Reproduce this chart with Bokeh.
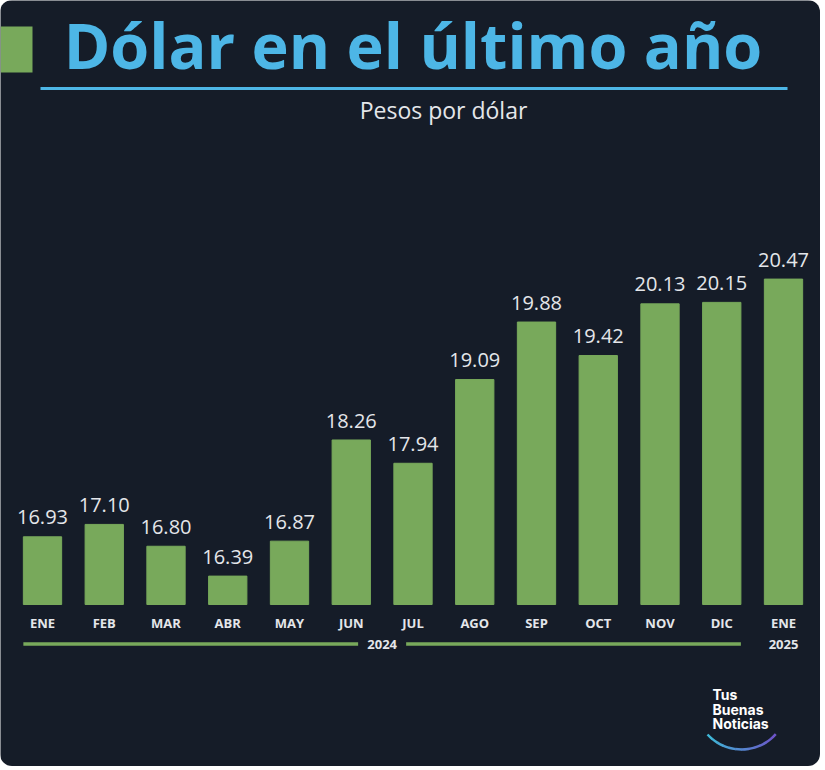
import math
from bokeh.plotting import figure
from bokeh.models import ColumnDataSource, Range1d
from bokeh.core.properties import value
from bokeh.embed import file_html
from bokeh.resources import INLINE

# ---------------- data ----------------
months = ["ENE", "FEB", "MAR", "ABR", "MAY", "JUN", "JUL", "AGO", "SEP", "OCT", "NOV", "DIC", "ENE"]
rates = [16.93, 17.10, 16.80, 16.39, 16.87, 18.26, 17.94, 19.09, 19.88, 19.42, 20.13, 20.15, 20.47]
years = ["2024", "2025"]
year_first = [0, 12]
year_last = [11, 12]
title = "Dólar en el último año"
subtitle = "Pesos por dólar"
logo_lines = ["Tus", "Buenas", "Noticias"]

# ---------------- style ----------------
BG = "#151c28"
GREEN = "#78a95b"
BLUE = "#4db6e6"
TXT = "#e4e6ea"
W, H = 820, 766
OX, OY = 0, 0            # page offset of the canvas
SX, SY = 61.75, 72.8     # px per x unit / per peso
X_REF0, Y_REF0 = 42, 604 # pixel of first bar centre / bar floor
FLOOR = 16.0
BAR_W = 0.62
BASE_FIX = 0.42          # svg baseline correction (fraction of font size)


def rx(px):
    return (px - X_REF0) / SX


def ry(py):
    return FLOOR + (Y_REF0 - py) / SY


def tb(py, size):
    """data y for an alphabetic baseline at pixel py for a given font size"""
    return ry(py - BASE_FIX * size)


p = figure(width=W, height=H,
           x_range=Range1d(rx(OX), rx(OX + W)),
           y_range=Range1d(ry(OY + H), ry(OY)),
           x_axis_type=None, y_axis_type=None,
           output_backend="svg", toolbar_location=None, tools="",
           min_border=0, background_fill_color=BG, border_fill_color=BG,
           outline_line_color=None)
p.grid.visible = False
p.styles = {"border-radius": "12px", "overflow": "hidden"}

xs = list(range(len(months)))
src = ColumnDataSource(dict(
    x=xs,
    rate=rates,
    label=["%.2f" % r for r in rates],
    label_y=[r + (11 + BASE_FIX * 20) / SY for r in rates],
    month=months,
))

# bars
p.vbar(x="x", top="rate", bottom=FLOOR, width=BAR_W, color=GREEN, source=src)

# value labels
p.text(x="x", y="label_y", text="label", source=src,
       text_align="center", text_baseline="alphabetic",
       text_font=value("Open Sans"), text_font_size="20px", text_color=TXT)

# month labels
p.text(x="x", y=tb(628, 13), text="month", source=src,
       text_align="center", text_baseline="alphabetic",
       text_font=value("Open Sans"), text_font_style="bold",
       text_font_size="13px", text_color=TXT)

# year brackets
half_gap = 24 / SX
half_bar = BAR_W / 2
for yr, a, b in zip(years, year_first, year_last):
    mid = (a + b) / 2
    if b > a:
        p.segment(x0=[a - half_bar, mid + half_gap], x1=[mid - half_gap, b + half_bar],
                  y0=[ry(643.5)] * 2, y1=[ry(643.5)] * 2,
                  line_color=GREEN, line_width=3.5)
    p.text(x=[mid], y=[tb(649, 13)], text=[yr], text_align="center",
           text_baseline="alphabetic", text_font=value("Open Sans"),
           text_font_style="bold", text_font_size="13px", text_color=TXT)

# title block
p.quad(left=[rx(0)], right=[rx(32)], top=[ry(26)], bottom=[ry(72)],
       color=GREEN, line_color=None)
p.text(x=[rx(412.5)], y=[tb(70, 63)], text=[title], text_align="center",
       text_baseline="alphabetic", text_font=value("Open Sans"),
       text_font_style="bold", text_font_size="63px", text_color=BLUE)
p.segment(x0=[rx(40)], x1=[rx(787)], y0=[ry(88)], y1=[ry(88)],
          line_color=BLUE, line_width=3)
p.text(x=[rx(443)], y=[tb(119, 23)], text=[subtitle], text_align="center",
       text_baseline="alphabetic", text_font=value("Open Sans"),
       text_font_size="23px", text_color=TXT)

# logo
for k, t in enumerate(logo_lines):
    p.text(x=[rx(712)], y=[tb(700 + 14.5 * k, 14)], text=[t], text_align="left",
           text_baseline="alphabetic", text_font=value("Inter"),
           text_font_style="bold", text_font_size="14px", text_color="#ffffff")

c0 = (0x3f, 0xb8, 0xd8)
c1 = (0x6c, 0x55, 0xc8)
a0, a1 = math.radians(-137.6), math.radians(-42.4)
n = 12
for k in range(n):
    f = k / (n - 1)
    col = "#%02x%02x%02x" % tuple(int(c0[j] + (c1[j] - c0[j]) * f) for j in range(3))
    p.arc(x=[rx(741)], y=[ry(703)], radius=46, radius_units="screen",
          start_angle=a0 + (a1 - a0) * k / n, end_angle=a0 + (a1 - a0) * (k + 1) / n + 0.01,
          line_color=col, line_width=2.5)

open("out.html", "w").write(file_html(p, INLINE))
